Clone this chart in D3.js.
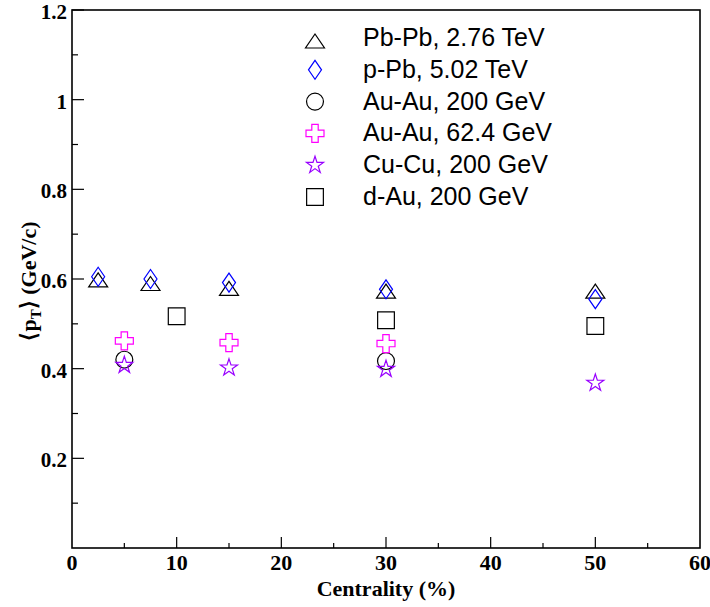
<!DOCTYPE html>
<html>
<head>
<meta charset="utf-8">
<script src="https://cdn.jsdelivr.net/npm/d3@7"></script>
<style>
  html, body { margin: 0; padding: 0; background: #fff; }
  svg { display: block; }
</style>
</head>
<body>
<svg id="chart" width="710" height="607"></svg>
<script>
// Mean transverse momentum vs. centrality for several collision systems
const pbpbX = [2.5, 7.5, 15, 30, 50];
const pbpbY = [0.598, 0.590, 0.579, 0.573, 0.573];
const ppbX = [2.5, 7.5, 15, 30, 50];
const ppbY = [0.605, 0.600, 0.592, 0.577, 0.555];
const auau200X = [5, 30];
const auau200Y = [0.420, 0.417];
const auau62X = [5, 15, 30];
const auau62Y = [0.462, 0.458, 0.456];
const cucuX = [5, 15, 30, 50];
const cucuY = [0.408, 0.402, 0.399, 0.368];
const dauX = [10, 30, 50];
const dauY = [0.517, 0.508, 0.495];

const seriesNames = ["Pb-Pb, 2.76 TeV", "p-Pb, 5.02 TeV", "Au-Au, 200 GeV",
                     "Au-Au, 62.4 GeV", "Cu-Cu, 200 GeV", "d-Au, 200 GeV"];
const xTicks = [0, 10, 20, 30, 40, 50, 60];
const yTicks = [0.2, 0.4, 0.6, 0.8, 1, 1.2];

const series = [
  { name: seriesNames[0], xs: pbpbX, ys: pbpbY, shape: "triangle", color: "#000000" },
  { name: seriesNames[1], xs: ppbX, ys: ppbY, shape: "diamond", color: "#0000ff" },
  { name: seriesNames[2], xs: auau200X, ys: auau200Y, shape: "circle", color: "#000000" },
  { name: seriesNames[3], xs: auau62X, ys: auau62Y, shape: "cross", color: "#ff00ff" },
  { name: seriesNames[4], xs: cucuX, ys: cucuY, shape: "star", color: "#9900ff" },
  { name: seriesNames[5], xs: dauX, ys: dauY, shape: "square", color: "#000000" }
];

const svg = d3.select("#chart");
const padL = 72, padR = 700, padT = 10, padB = 548;

const x = d3.scaleLinear().domain([0, 60]).range([padL, padR]);
const y = d3.scaleLinear().domain([0, 1.2]).range([padB, padT]);

// Frame
svg.append("rect")
  .attr("x", padL).attr("y", padT)
  .attr("width", padR - padL).attr("height", padB - padT)
  .attr("fill", "none").attr("stroke", "#000").attr("stroke-width", 1.6);

// Ticks (inward)
const tickFont = "'Liberation Serif', 'Times New Roman', serif";
const xMinor = d3.range(5, 60, 10);
const yMinor = d3.range(0.1, 1.2, 0.2);

const gx = svg.append("g");
gx.selectAll("line.maj").data(xTicks.slice(1, -1)).join("line")
  .attr("class", "maj")
  .attr("x1", d => x(d)).attr("x2", d => x(d))
  .attr("y1", padB).attr("y2", padB - 11)
  .attr("stroke", "#000").attr("stroke-width", 1.2);
gx.selectAll("line.min").data(xMinor).join("line")
  .attr("class", "min")
  .attr("x1", d => x(d)).attr("x2", d => x(d))
  .attr("y1", padB).attr("y2", padB - 5)
  .attr("stroke", "#000").attr("stroke-width", 1.2);
gx.selectAll("text").data(xTicks).join("text")
  .attr("x", d => x(d)).attr("y", 570)
  .attr("text-anchor", "middle")
  .attr("font-family", tickFont).attr("font-weight", "bold").attr("font-size", 22)
  .text(d => d);

const gy = svg.append("g");
gy.selectAll("line.maj").data(yTicks).join("line")
  .attr("class", "maj")
  .attr("x1", padL).attr("x2", padL + 12)
  .attr("y1", d => y(d)).attr("y2", d => y(d))
  .attr("stroke", "#000").attr("stroke-width", 1.2);
gy.selectAll("line.min").data(yMinor).join("line")
  .attr("class", "min")
  .attr("x1", padL).attr("x2", padL + 6)
  .attr("y1", d => y(d)).attr("y2", d => y(d))
  .attr("stroke", "#000").attr("stroke-width", 1.2);
gy.selectAll("text").data(yTicks).join("text")
  .attr("x", 67)
  .attr("y", d => y(d) + 9)
  .attr("text-anchor", "end")
  .attr("font-family", tickFont).attr("font-weight", "bold").attr("font-size", 21)
  .text(d => d3.format("~g")(d));

// Axis titles
svg.append("text")
  .attr("x", (padL + padR) / 2).attr("y", 596)
  .attr("text-anchor", "middle")
  .attr("font-family", tickFont).attr("font-weight", "bold").attr("font-size", 22)
  .text("Centrality (%)");

const yt = svg.append("text")
  .attr("transform", `translate(36, ${(padT + padB) / 2 + 2}) rotate(-90)`)
  .attr("text-anchor", "middle")
  .attr("font-family", tickFont).attr("font-weight", "bold").attr("font-size", 22);
yt.append("tspan").text("\u27E8p");
yt.append("tspan").attr("font-size", 15).attr("dy", 5).text("T");
yt.append("tspan").attr("dy", -5).text("\u27E9 (GeV/c)");

// Marker shapes
const symbolGen = {
  circle: d3.symbol().type(d3.symbolCircle).size(225),
  square: d3.symbol().type(d3.symbolSquare).size(280),
  star: d3.symbol().type(d3.symbolStar).size(90)
};
function markerPath(shape) {
  if (shape === "diamond") {
    return "M0,-9.5L6.5,0L0,9.5L-6.5,0Z";
  }
  if (shape === "cross") {
    const a = 3.2, b = 9;
    return `M${-a},${-b}H${a}V${-a}H${b}V${a}H${a}V${b}H${-a}V${a}H${-b}V${-a}H${-a}Z`;
  }
  if (shape === "triangle") {
    return "M0,-7L9.5,7L-9.5,7Z";
  }
  return symbolGen[shape]();
}

const gPts = svg.append("g");
series.forEach(s => {
  const pts = s.xs.map((v, i) => [v, s.ys[i]]);
  gPts.append("g").selectAll("path").data(pts).join("path")
    .attr("transform", d => `translate(${x(d[0])},${y(d[1])})`)
    .attr("d", markerPath(s.shape))
    .attr("fill", "none")
    .attr("stroke", s.color)
    .attr("stroke-width", 1.2);
});

// Legend
const legend = svg.append("g");
const legBase0 = 46, legStep = 31.8;
series.forEach((s, i) => {
  const base = legBase0 + i * legStep;
  const my = base - 8 + (s.shape === "triangle" ? 3 : 0);
  legend.append("path")
    .attr("transform", `translate(315,${my})`)
    .attr("d", markerPath(s.shape))
    .attr("fill", "none").attr("stroke", s.color).attr("stroke-width", 1.2);
  legend.append("text")
    .attr("x", 363).attr("y", base)
    .attr("font-family", "'Liberation Sans', Arial, sans-serif")
    .attr("font-size", 25)
    .text(s.name);
});
</script>
</body>
</html>
